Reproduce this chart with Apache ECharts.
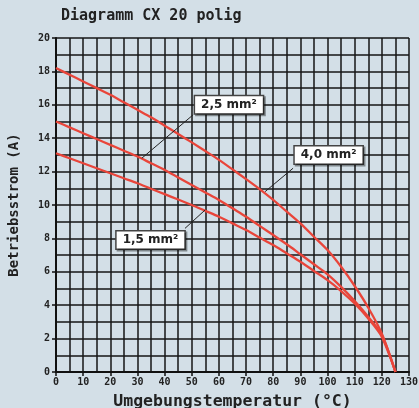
<!DOCTYPE html>
<html><head><meta charset="utf-8">
<script src="https://cdn.jsdelivr.net/npm/echarts@6/dist/echarts.min.js"></script>
<style>html,body{margin:0;padding:0;background:#d3dfe7}#c{width:419px;height:408px}</style>
</head><body><div id="c"></div>
<script>
// Data (temperature in °C, current in A)
const temps     = [0, 5, 10, 15, 20, 25, 30, 35, 40, 45, 50, 55, 60, 65, 70, 75, 80, 85, 90, 95, 100, 105, 110, 115, 120, 125];
const current40 = [18.2, 17.8, 17.4, 17.0, 16.6, 16.15, 15.7, 15.25, 14.75, 14.25, 13.75, 13.23, 12.7, 12.13, 11.55, 10.95, 10.3, 9.6, 8.9, 8.1, 7.3, 6.3, 5.15, 3.85, 2.3, 0];
const current25 = [15.0, 14.65, 14.3, 13.95, 13.6, 13.25, 12.9, 12.5, 12.1, 11.65, 11.2, 10.75, 10.3, 9.8, 9.3, 8.75, 8.2, 7.65, 7.05, 6.45, 5.85, 5.1, 4.25, 3.3, 2.2, 0];
const current15 = [13.1, 12.8, 12.5, 12.2, 11.9, 11.6, 11.3, 10.97, 10.65, 10.33, 10.0, 9.65, 9.3, 8.9, 8.5, 8.05, 7.6, 7.1, 6.6, 6.05, 5.5, 4.85, 4.1, 3.2, 2.1, 0];
const seriesNames = ['4,0 mm²', '2,5 mm²', '1,5 mm²'];
// annotation anchors in data space: label centre, pointer start, pointer end
const labelAt   = [[100.4, 13.0], [63.7, 16.0], [34.8, 7.9]];
const pointFrom = [[87.3, 12.2], [50.5, 15.4], [47.5, 8.6]];
const pointTo   = [[77.0, 10.8], [31.6, 12.8], [54.9, 9.7]];

const title = 'Diagramm CX 20 polig';
const xName = 'Umgebungstemperatur (°C)';
const yName = 'Betriebsstrom (A)';

const FONT = '"DejaVu Sans Mono", monospace';
const RED = '#e9453a';
const GRIDC = '#161616';

function pairs(xs, ys) { return xs.map((x, i) => [x, ys[i]]); }
const allValues = [current40, current25, current15];

const series = allValues.map((vals, i) => ({
  name: seriesNames[i],
  type: 'line',
  data: pairs(temps, vals),
  smooth: 0.3,
  symbol: 'none',
  lineStyle: { color: RED, width: 2.3 },
  z: 3,
  markLine: {
    silent: true,
    symbol: ['none', 'none'],
    label: { show: false },
    lineStyle: { color: '#222', width: 1, type: 'solid' },
    data: [[{ coord: pointFrom[i] }, { coord: pointTo[i] }]]
  },
  markPoint: {
    silent: true,
    symbol: 'rect',
    symbolSize: 1,
    itemStyle: { color: 'rgba(0,0,0,0)' },
    label: {
      show: true,
      position: 'inside',
      formatter: seriesNames[i],
      fontFamily: '"DejaVu Sans", sans-serif',
      fontWeight: 'bold',
      fontSize: 12,
      color: '#222',
      backgroundColor: '#ffffff',
      borderColor: '#444',
      borderWidth: 1.5,
      padding: [3, 6, 2, 6],
      shadowColor: 'rgba(0,0,0,0.4)',
      shadowOffsetX: 1.5,
      shadowOffsetY: 1.5
    },
    data: [{ coord: labelAt[i] }]
  }
}));

const chart = echarts.init(document.getElementById('c'), null, { renderer: 'canvas' });
chart.setOption({
  backgroundColor: '#d3dfe7',
  animation: false,
  title: {
    text: title, left: 61, top: 9, padding: 0,
    textStyle: { fontFamily: FONT, fontWeight: 'bold', fontSize: 15, color: '#222' }
  },
  grid: { left: 56, right: 10, top: 38, bottom: 36, show: false, containLabel: false, outerBoundsMode: 'none' },
  xAxis: {
    type: 'value', min: 0, max: 130, interval: 10,
    name: xName, nameLocation: 'middle', nameGap: 21,
    nameTextStyle: { fontFamily: FONT, fontWeight: 'bold', fontSize: 16.5, color: '#222' },
    axisLine: { show: true, lineStyle: { color: '#111', width: 2 } },
    axisTick: { show: true, length: 4, lineStyle: { color: '#111', width: 1.5 } },
    axisLabel: { fontFamily: FONT, fontWeight: 'bold', fontSize: 10, color: '#222', margin: 5 },
    splitLine: { show: true, lineStyle: { color: GRIDC, width: 1.5 } },
    minorTick: { show: false, splitNumber: 2 },
    minorSplitLine: { show: true, lineStyle: { color: GRIDC, width: 1.5 } }
  },
  yAxis: {
    type: 'value', min: 0, max: 20, interval: 2,
    name: yName, nameLocation: 'middle', nameGap: 35, nameRotate: 90,
    nameTextStyle: { fontFamily: FONT, fontWeight: 'bold', fontSize: 14, color: '#222' },
    axisLine: { show: true, lineStyle: { color: '#111', width: 2 } },
    axisTick: { show: true, length: 4, lineStyle: { color: '#111', width: 1.5 } },
    axisLabel: { fontFamily: FONT, fontWeight: 'bold', fontSize: 10, color: '#222', margin: 6 },
    splitLine: { show: true, lineStyle: { color: GRIDC, width: 1.5 } },
    minorTick: { show: false, splitNumber: 2 },
    minorSplitLine: { show: true, lineStyle: { color: GRIDC, width: 1.5 } }
  },
  series: series
});
</script>
</body></html>
